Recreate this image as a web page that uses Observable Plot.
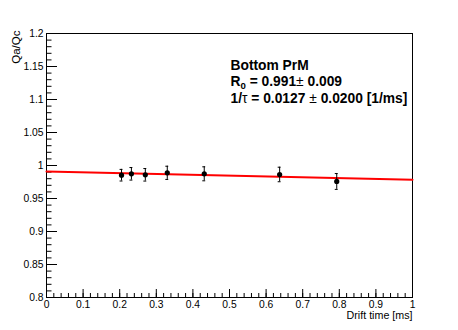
<!DOCTYPE html>
<html><head><meta charset="utf-8">
<script src="https://cdn.jsdelivr.net/npm/d3@7"></script>
<script src="https://cdn.jsdelivr.net/npm/@observablehq/plot@0.6"></script>
<style>html,body{margin:0;padding:0;background:#fff}</style>
</head><body><div id="chart"></div>
<script>
// ---- data ----
const driftTime = [0.205, 0.232, 0.270, 0.330, 0.431, 0.637, 0.793];
const ratio     = [0.9853, 0.9874, 0.9859, 0.9889, 0.9874, 0.9864, 0.9758];
const ratioErr  = [0.0088, 0.0095, 0.0095, 0.0100, 0.0106, 0.0110, 0.0120];
const fitX = [0, 1];
const fitY = [0.991, 0.9785];
const xTicks = [0, 0.1, 0.2, 0.3, 0.4, 0.5, 0.6, 0.7, 0.8, 0.9, 1];
const xTickLabels = ["0", "0.1", "0.2", "0.3", "0.4", "0.5", "0.6", "0.7", "0.8", "0.9", "1"];
const yTicks = [0.8, 0.85, 0.9, 0.95, 1, 1.05, 1.1, 1.15, 1.2];
const yTickLabels = ["0.8", "0.85", "0.9", "0.95", "1", "1.05", "1.1", "1.15", "1.2"];
const xMinor = d3.range(0, 51).map(i => i / 50);
const yMinor = d3.range(0, 41).map(i => 0.8 + i / 100);
const titleLines = ["Bottom PrM", "R0 = 0.991± 0.009", "1/τ = 0.0127 ± 0.0200 [1/ms]"];
const xTitle = "Drift time [ms]";
const yTitle = "Qa/Qc";

// ---- layout ----
const W = 458, H = 330, mL = 46, mR = 46, mT = 33, mB = 33;
const plotW = W - mL - mR, plotH = H - mT - mB;
const pts = driftTime.map((x, i) => ({x, y: ratio[i], e: ratioErr[i]}));
const fit = fitX.map((x, i) => ({x, y: fitY[i]}));
const capHalf = 0.004;
const titleFS = 13.8;

const chart = Plot.plot({
  width: W, height: H,
  marginLeft: mL, marginRight: mR, marginTop: mT, marginBottom: mB,
  style: {fontFamily: "'Liberation Sans', Arial, Helvetica, sans-serif", fontSize: "10.3px", background: "#fff", color: "#000"},
  x: {domain: [0, 1]},
  y: {domain: [0.8, 1.2]},
  marks: [
    Plot.tickX(xMinor, {x: d => d, insetTop: plotH - 4, stroke: "#000"}),
    Plot.tickX(xTicks, {x: d => d, insetTop: plotH - 8, stroke: "#000"}),
    Plot.tickY(yMinor, {y: d => d, insetRight: plotW - 5.5, stroke: "#000"}),
    Plot.tickY(yTicks, {y: d => d, insetRight: plotW - 11, stroke: "#000"}),
    Plot.axisX(xTicks, {tickSize: 0, tickPadding: 3, label: null, tickFormat: d => xTickLabels[xTicks.indexOf(d)]}),
    Plot.axisY(yTicks, {tickSize: 0, tickPadding: 3, label: null, tickFormat: d => yTickLabels[yTicks.indexOf(d)]}),
    Plot.frame({stroke: "#000"}),
    Plot.line(fit, {x: "x", y: "y", stroke: "#ff0000", strokeWidth: 2}),
    Plot.ruleX(pts, {x: "x", y1: d => d.y - d.e, y2: d => d.y + d.e, stroke: "#000"}),
    Plot.ruleY(pts, {y: d => d.y + d.e, x1: d => d.x - capHalf, x2: d => d.x + capHalf, stroke: "#000"}),
    Plot.ruleY(pts, {y: d => d.y - d.e, x1: d => d.x - capHalf, x2: d => d.x + capHalf, stroke: "#000"}),
    Plot.dot(pts, {x: "x", y: "y", r: 2.6, fill: "#000", stroke: null}),
    Plot.text([titleLines[0]], {text: d => d, frameAnchor: "top-left", textAnchor: "start", lineAnchor: "top", dx: 184, dy: 59.8 - mT, fontSize: titleFS, fontWeight: "bold", fill: "#000"}),
    Plot.text([titleLines[1]], {text: d => d, frameAnchor: "top-left", textAnchor: "start", lineAnchor: "top", dx: 184, dy: 75.8 - mT, fontSize: titleFS, fontWeight: "bold", fill: "#000"}),
    Plot.text([titleLines[2]], {text: d => d, frameAnchor: "top-left", textAnchor: "start", lineAnchor: "top", dx: 184, dy: 92.3 - mT, fontSize: titleFS, fontWeight: "bold", fill: "#000"}),
    Plot.text([xTitle], {text: d => d, frameAnchor: "bottom-right", textAnchor: "end", lineAnchor: "top", dx: 0, dy: 310.4 - (H - mB), fontSize: 10.7, fill: "#000"}),
    Plot.text([yTitle], {text: d => d, frameAnchor: "top-left", textAnchor: "end", rotate: -90, dx: 11 - mL, dy: 30 - mT, fontSize: 11.5, fill: "#000"})
  ]
});
document.getElementById("chart").appendChild(chart);

// mixed styling: subscript and thin symbols
const svg = d3.select(chart);
function rich(content, parts) {
  const t = svg.selectAll("text").filter(function () { return this.textContent === content; });
  if (t.empty()) return;
  t.text(null);
  for (const p of parts) {
    const s = t.append("tspan").text(p.t);
    if (p.w) s.attr("font-weight", p.w);
    if (p.fs) s.attr("font-size", p.fs);
    if (p.dy) s.attr("dy", p.dy);
  }
}
rich(titleLines[1], [
  {t: "R"}, {t: "0", fs: titleFS * 0.7, dy: 3}, {t: " = 0.991", dy: -3},
  {t: "±", w: "normal"}, {t: " 0.009"}
]);
rich(titleLines[2], [
  {t: "1/"}, {t: "τ", w: "normal"}, {t: " = 0.0127 "}, {t: "±", w: "normal"}, {t: " 0.0200 [1/ms]"}
]);
</script>
</body></html>
